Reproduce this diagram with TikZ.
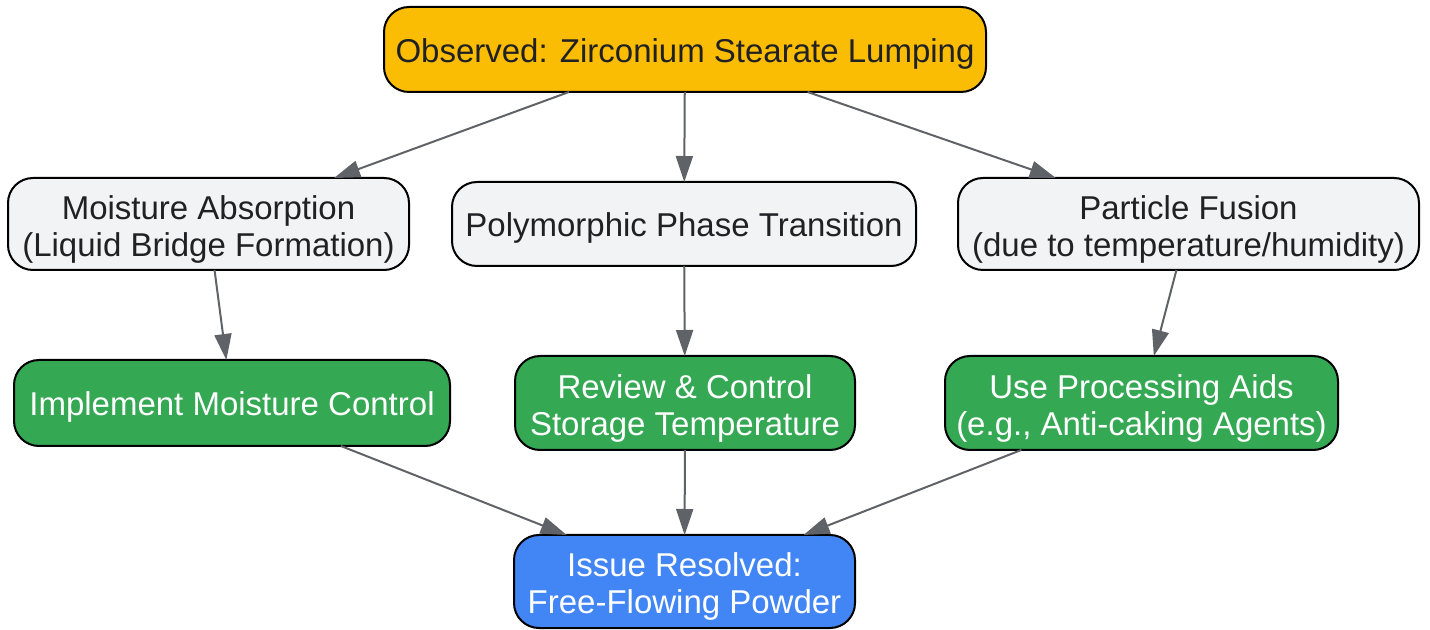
\documentclass[tikz,border=0pt]{standalone}
\usepackage{fontspec}
\setmainfont{Liberation Sans}
\usetikzlibrary{arrows.meta}
\definecolor{cOrange}{HTML}{FBBC04}
\definecolor{cGrey}{HTML}{F1F3F4}
\definecolor{cGreen}{HTML}{34A853}
\definecolor{cBlue}{HTML}{4285F4}
\definecolor{cText}{HTML}{202124}
\definecolor{cEdge}{HTML}{5F6368}
\tikzset{
  box/.style={draw=black, line width=1pt, rounded corners=12.5pt, inner sep=0pt, outer sep=0pt},
  txt/.style={align=center, font=\fontsize{16.5}{18.5}\selectfont, text=cText, inner sep=0pt},
  wtxt/.style={txt, text=white},
  obs/.style={box, fill=cOrange},
  cause/.style={box, fill=cGrey},
  act/.style={box, fill=cGreen},
  done/.style={box, fill=cBlue},
  edge/.style={draw=cEdge, line width=1pt, -{Triangle[length=13pt,width=8.5pt]}}
}
% #1 box style, #2 text style, #3 name, #4 position, #5 width, #6 height, #7 text shift, #8 text
\newcommand{\mybox}[8]{%
  \node[#1, minimum width=#5, minimum height=#6] (#3) at #4 {};
  \node[#2, yshift=-#7] (#3-t) at (#3) {#8};
}
\begin{document}
\begin{tikzpicture}[x=0.5pt,y=-0.5pt]
\useasboundingbox (0,0) rectangle (1430,630);
\mybox{obs}{txt}{top}{(685,49.5)}{301pt}{42.5pt}{2pt}{Observed: Zirconium Stearate Lumping}
\mybox{cause}{txt}{moist}{(208.5,224)}{200.5pt}{46pt}{2.5pt}{Moisture Absorption\\(Liquid Bridge Formation)}
\mybox{cause}{txt}{poly}{(684,224)}{232pt}{42pt}{2pt}{Polymorphic Phase Transition}
\mybox{cause}{txt}{part}{(1188.5,224)}{230.5pt}{46pt}{2.5pt}{Particle Fusion\\(due to temperature/humidity)}
\mybox{act}{wtxt}{impl}{(232,403)}{218pt}{43pt}{2pt}{Implement Moisture Control}
\mybox{act}{wtxt}{rev}{(685,403)}{170pt}{47pt}{2.5pt}{Review \& Control\\Storage Temperature}
\mybox{act}{wtxt}{aids}{(1141.5,403)}{196.5pt}{47pt}{2.5pt}{Use Processing Aids\\(e.g., Anti-caking Agents)}
\mybox{done}{wtxt}{res}{(684.5,581.5)}{170.5pt}{46.5pt}{2.5pt}{Issue Resolved:\\Free-Flowing Powder}
\draw[edge] (top) -- (moist);
\draw[edge] (top) -- (poly);
\draw[edge] (top) -- (part);
\draw[edge] (moist) -- (impl);
\draw[edge] (poly) -- (rev);
\draw[edge] (part) -- (aids);
\draw[edge] (impl) -- (res);
\draw[edge] (rev) -- (res);
\draw[edge] (aids) -- (res);
\end{tikzpicture}
\end{document}
